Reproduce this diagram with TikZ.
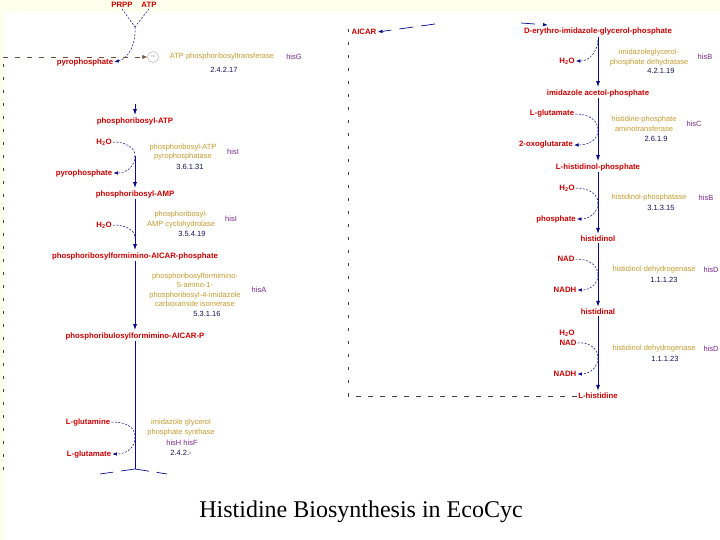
\documentclass[tikz,border=0pt]{standalone}
\usepackage{fontspec}
\setmainfont{Liberation Sans}
\newfontfamily\titlefont{Liberation Serif}
\usetikzlibrary{arrows.meta}
\definecolor{cpdred}{RGB}{200,0,0}
\definecolor{enzgold}{RGB}{196,156,48}
\definecolor{genepurple}{RGB}{120,40,140}
\definecolor{ecnavy}{RGB}{20,20,90}
\definecolor{rxnblue}{RGB}{10,10,140}
\definecolor{regbrown}{RGB}{110,80,60}
\definecolor{slide}{RGB}{255,255,238}
\tikzset{
  cpd/.style={text=cpdred, font=\fontsize{7.8}{9}\selectfont\bfseries, inner sep=1pt},
  enz/.style={text=enzgold, font=\fontsize{7.5}{9.5}\selectfont, align=center, inner sep=0pt},
  gene/.style={text=genepurple, font=\fontsize{7.5}{9}\selectfont, inner sep=0pt},
  ecnum/.style={text=ecnavy, font=\fontsize{7.5}{9}\selectfont, inner sep=0pt},
  rxn/.style={rxnblue, line width=0.9pt, -{Latex[length=6pt,width=4pt]}, shorten >=1pt},
  axis/.style={rxnblue, line width=0.9pt},
  side/.style={rxnblue, line width=0.5pt, dash pattern=on 2pt off 1.5pt},
  sidearr/.style={side, -{Latex[length=4.5pt,width=3.5pt]}},
  forkline/.style={rxnblue, line width=0.7pt, dash pattern=on 14pt off 8pt},
  forkarr/.style={forkline, -{Latex[length=5pt,width=3.5pt]}},
  regh/.style={black!75, line width=0.5pt, dash pattern=on 5pt off 7pt},
  regv/.style={black!75, line width=0.5pt, dash pattern=on 3pt off 10pt},
  inhib/.style={circle, draw=gray!70, text=gray, minimum size=11pt, inner sep=0pt, font=\fontsize{8}{8}\selectfont},
}
\begin{document}
\begin{tikzpicture}[x=1pt,y=-1pt]
\useasboundingbox (0,0) rectangle (720,540);
\fill[slide] (0,0) rectangle (720,540);
\fill[white] (4,12) rectangle (720,540);

% ATP phosphoribosyltransferase
\node[cpd] (prpp) at (122,5) {PRPP};
\node[cpd] (atp) at (149,5) {ATP};
\coordinate (j0) at (135,27);
\draw[side] (prpp.south) -- (j0);
\draw[side] (atp.south) -- (j0);
\node[cpd] (ppiA) at (85,62) {pyrophosphate};
\draw[sidearr] (j0) .. controls (136,42) and (130,58) .. (ppiA.east);
\node[inhib] (minus) at (153,57) {\textendash};
\node[enz] (enzG) at (222,57) {ATP phosphoribosyltransferase};
\node[gene] (hisG) at (294,57) {hisG};
\node[ecnum] (ecG) at (224,70) {2.4.2.17};
\coordinate (fbL0) at (3,470);
\coordinate (fbL1) at (3,57);
\draw[regv] (fbL0) -- (fbL1);
\draw[regh, -{Latex[length=5pt,width=4pt]}, regbrown] (fbL1) -- (minus.west);
\coordinate (tA) at (135,104);
\node[cpd] (prATP) at (135,121) {phosphoribosyl-ATP};
\draw[rxn] (tA) -- (prATP.north);

% phosphoribosyl-ATP pyrophosphatase
\node[cpd] (h2oB) at (104,142) {H\textsubscript{2}O};
\node[cpd] (ppiB) at (84,173) {pyrophosphate};
\coordinate (tB) at (135,156);
\node[cpd] (prAMP) at (135,194) {phosphoribosyl-AMP};
\draw[side] (h2oB.east) .. controls (127,142) and (135,148) .. (tB);
\draw[sidearr] (tB) .. controls (135,166) and (127,173) .. (ppiB.east);
\draw[rxn] (tB) -- (prAMP.north);
\node[enz] (enzB) at (183,152) {phosphoribosyl-ATP\\pyrophosphatase};
\node[gene] (hisIb) at (233,152) {hisI};
\node[ecnum] (ecB) at (190,167) {3.6.1.31};

% phosphoribosyl-AMP cyclohydrolase
\node[cpd] (h2oC) at (104,225) {H\textsubscript{2}O};
\coordinate (tC) at (135,238);
\node[cpd] (ffAICAR) at (135,256) {phosphoribosylformimino-AICAR-phosphate};
\draw[rxn] (prAMP.south) -- (ffAICAR.north);
\draw[side] (h2oC.east) .. controls (126,225) and (135,230) .. (tC);
\node[enz] (enzC) at (181,219.5) {phosphoribosyl-\\AMP cyclohydrolase};
\node[gene] (hisIc) at (231,219) {hisI};
\node[ecnum] (ecC) at (192,234) {3.5.4.19};

% isomerase
\node[cpd] (prfAICAR) at (135,336) {phosphoribulosylformimino-AICAR-P};
\draw[rxn] (ffAICAR.south) -- (prfAICAR.north);
\node[enz] (enzD) at (195,290) {phosphoribosylformimino-\\5-amino-1-\\phosphoribosyl-4-imidazole\\carboxamide isomerase};
\node[gene] (hisA) at (259,290) {hisA};
\node[ecnum] (ecD) at (207,314) {5.3.1.16};

% imidazole glycerol phosphate synthase
\node[cpd] (gln) at (88,422) {L-glutamine};
\node[cpd] (glu) at (89,454) {L-glutamate};
\coordinate (tE) at (135,437);
\coordinate (fork) at (135,469);
\coordinate (forkL) at (100,474);
\coordinate (forkR) at (167,474);
\draw[axis] (prfAICAR.south) -- (fork);
\draw[side] (gln.east) .. controls (128,422) and (135,428) .. (tE);
\draw[sidearr] (tE) .. controls (135,447) and (128,454) .. (glu.east);
\draw[forkline] (fork) -- (forkL);
\draw[forkline] (fork) -- (forkR);
\node[enz] (enzE) at (181,427.5) {imidazole glycerol\\phosphate synthase};
\node[gene] (hisHF) at (182,443) {hisH hisF};
\node[ecnum] (ecE) at (181,453) {2.4.2.-};

% right column
\node[cpd] (aicar) at (364,32) {AICAR};
\coordinate (aicarIn) at (435,24);
\draw[forkarr] (aicarIn) -- (aicar.east);
\node[cpd] (igp) at (598,32) {D-erythro-imidazole-glycerol-phosphate};
\coordinate (igpIn0) at (521,23);
\coordinate (igpIn1) at (548,25);
\draw[forkarr] (igpIn0) -- (igpIn1);

% imidazoleglycerol-phosphate dehydratase
\coordinate (tF) at (598,40);
\node[cpd] (h2oF) at (567,61) {H\textsubscript{2}O};
\node[cpd] (iap) at (598,93) {imidazole acetol-phosphate};
\draw[rxn] (igp.south) -- (iap.north);
\draw[sidearr] (tF) .. controls (597,52) and (590,61) .. (h2oF.east);
\node[enz] (enzF) at (649,57.5) {imidazoleglycerol-\\phosphate dehydratase};
\node[gene] (hisBf) at (705,57) {hisB};
\node[ecnum] (ecF) at (661,71) {4.2.1.19};

% histidine-phosphate aminotransferase
\node[cpd] (gluG) at (552,114) {L-glutamate};
\node[cpd] (oxo) at (546,145) {2-oxoglutarate};
\coordinate (tG) at (598,130);
\node[cpd] (hlp) at (598,167) {L-histidinol-phosphate};
\draw[rxn] (iap.south) -- (hlp.north);
\draw[side] (gluG.east) .. controls (590,114) and (598,121) .. (tG);
\draw[sidearr] (tG) .. controls (598,139) and (590,145) .. (oxo.east);
\node[enz] (enzG2) at (644,124) {histidine-phosphate\\aminotransferase};
\node[gene] (hisC) at (694,124) {hisC};
\node[ecnum] (ecG2) at (656,139) {2.6.1.9};

% histidinol-phosphatase
\node[cpd] (h2oH) at (567,188) {H\textsubscript{2}O};
\node[cpd] (pi) at (556,219) {phosphate};
\coordinate (tH) at (598,203);
\node[cpd] (hol) at (598,239) {histidinol};
\draw[rxn] (hlp.south) -- (hol.north);
\draw[side] (h2oH.east) .. controls (590,188) and (598,195) .. (tH);
\draw[sidearr] (tH) .. controls (598,212) and (590,219) .. (pi.east);
\node[enz] (enzH) at (649,198) {histidinol-phosphatase};
\node[gene] (hisBh) at (706,198) {hisB};
\node[ecnum] (ecH) at (661,208) {3.1.3.15};

% histidinol dehydrogenase
\node[cpd] (nadI) at (566,259) {NAD};
\node[cpd] (nadhI) at (565,290) {NADH};
\coordinate (tI) at (598,275);
\node[cpd] (hal) at (598,312) {histidinal};
\draw[rxn] (hol.south) -- (hal.north);
\draw[side] (nadI.east) .. controls (590,259) and (598,266) .. (tI);
\draw[sidearr] (tI) .. controls (598,284) and (590,290) .. (nadhI.east);
\node[enz] (enzI) at (654,270) {histidinol dehydrogenase};
\node[gene] (hisDi) at (711,270) {hisD};
\node[ecnum] (ecI) at (664,280) {1.1.1.23};

\node[cpd] (h2oJ) at (567,333) {H\textsubscript{2}O};
\node[cpd] (nadJ) at (568,343) {NAD};
\node[cpd] (nadhJ) at (565,374) {NADH};
\coordinate (tJ) at (598,358);
\node[cpd] (his) at (598,396) {L-histidine};
\draw[rxn] (hal.south) -- (his.north);
\draw[side] (nadJ.east) .. controls (590,342) and (598,349) .. (tJ);
\draw[sidearr] (tJ) .. controls (598,367) and (590,374) .. (nadhJ.east);
\node[enz] (enzJ) at (654,349) {histidinol dehydrogenase};
\node[gene] (hisDj) at (711,349) {hisD};
\node[ecnum] (ecJ) at (665,359) {1.1.1.23};

% feedback
\coordinate (fbR0) at (348,396);
\coordinate (fbR1) at (348,24);
\draw[regh] (his.west) -- (fbR0);
\draw[regv] (fbR0) -- (fbR1);

\node[font=\titlefont\fontsize{24}{28}\selectfont] (title) at (361,512) {Histidine Biosynthesis in EcoCyc};
\end{tikzpicture}
\end{document}
